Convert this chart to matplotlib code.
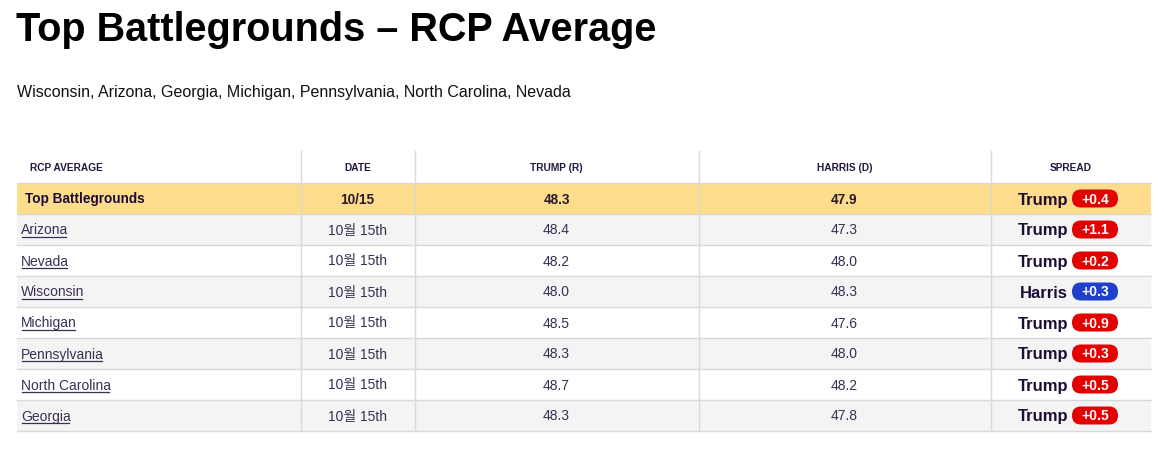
import matplotlib.pyplot as plt
from matplotlib.patches import FancyBboxPatch, Rectangle

title = "Top Battlegrounds \u2013 RCP Average"
subtitle = "Wisconsin, Arizona, Georgia, Michigan, Pennsylvania, North Carolina, Nevada"
headers = ["RCP AVERAGE", "DATE", "TRUMP (R)", "HARRIS (D)", "SPREAD"]

summary_name = "Top Battlegrounds"
summary_date = "10/15"
summary_trump = 48.3
summary_harris = 47.9
summary_leader = "Trump"
summary_spread = 0.4

states = ["Arizona", "Nevada", "Wisconsin", "Michigan", "Pennsylvania", "North Carolina", "Georgia"]
dates = ["10월 15th"] * 7
trump = [48.4, 48.2, 48.0, 48.5, 48.3, 48.7, 48.3]
harris = [47.3, 48.0, 48.3, 47.6, 48.0, 48.2, 47.8]
leaders = ["Trump", "Trump", "Harris", "Trump", "Trump", "Trump", "Trump"]
spreads = [1.1, 0.2, 0.3, 0.9, 0.3, 0.5, 0.5]

W, H = 1164, 451
fig = plt.figure(figsize=(W / 100, H / 100), dpi=100)
ax = fig.add_axes([0, 0, 1, 1])
ax.set_xlim(0, W)
ax.set_ylim(H, 0)
ax.axis("off")

SANS = ["Liberation Sans", "Noto Sans CJK KR", "DejaVu Sans"]
PURPLE = "#25163f"
TEXT = "#3a2e52"
DARK = "#1d0d35"
RED = "#e20000"
BLUE = "#1f3fcc"
GRID = "#d9d9d9"

ax.text(16, 41, title, fontsize=28.5, fontweight="bold", family=SANS,
        color="black", va="baseline", ha="left")
ax.text(17, 97, subtitle, fontsize=11.5, family=SANS, color="#111111",
        va="baseline", ha="left")

left, right = 17, 1151
seps = [300.5, 414.5, 698.5, 990.5]
edges = [left] + seps + [right]
centers = [(edges[i] + edges[i + 1]) / 2 for i in range(5)]
top = 151
row_h = 31
head_bot = 183

# header
for i, h in enumerate(headers):
    x = 30 if i == 0 else centers[i]
    ax.text(x, 171, h, fontsize=7.3, fontweight="bold", family=SANS,
            color=PURPLE, va="baseline", ha="left" if i == 0 else "center")


def spread_cell(yc, leader, val):
    ax.text(1068, yc + 6, leader, fontsize=12, fontweight="bold", family=SANS,
            color=DARK, va="baseline", ha="right")
    col = RED if leader == "Trump" else BLUE
    bx, bw, bh = 1072, 46, 18
    ax.add_patch(FancyBboxPatch((bx, yc - bh / 2), bw, bh,
                                boxstyle="round,pad=0,rounding_size=9",
                                facecolor=col, edgecolor="none", zorder=3))
    ax.text(bx + bw / 2, yc + 5, "+%.1f" % val, fontsize=10, fontweight="bold",
            family=SANS, color="white", va="baseline", ha="center", zorder=4)


# summary row
y0 = head_bot
ax.add_patch(Rectangle((left, y0), right - left, row_h, facecolor="#fddd8c",
                       edgecolor="none", zorder=0))
yc = y0 + row_h / 2
ax.text(25, yc + 5, summary_name, fontsize=9.8, fontweight="bold", family=SANS,
        color=DARK, va="baseline", ha="left")
for x, s in [(centers[1], summary_date), (centers[2], "%.1f" % summary_trump),
             (centers[3], "%.1f" % summary_harris)]:
    ax.text(x, yc + 5, s, fontsize=9.8, fontweight="bold", family=SANS,
            color="#2a1a2a", va="baseline", ha="center")
spread_cell(yc, summary_leader, summary_spread)

# state rows
links = []
for r in range(len(states)):
    y0 = head_bot + row_h * (r + 1)
    yc = y0 + row_h / 2
    if r % 2 == 0:
        ax.add_patch(Rectangle((left, y0), right - left, row_h, facecolor="#f4f4f4",
                               edgecolor="none", zorder=0))
    links.append(ax.text(21, yc + 5, states[r], fontsize=10, family=SANS, color=TEXT,
                         va="baseline", ha="left"))
    ax.text(centers[1], yc + 5, dates[r], fontsize=10, family=SANS, color=TEXT,
            va="baseline", ha="center")
    ax.text(centers[2], yc + 5, "%.1f" % trump[r], fontsize=10, family=SANS, color=TEXT,
            va="baseline", ha="center")
    ax.text(centers[3], yc + 5, "%.1f" % harris[r], fontsize=10, family=SANS, color=TEXT,
            va="baseline", ha="center")
    spread_cell(yc, leaders[r], spreads[r])

# underline for state links
fig.canvas.draw()
renderer = fig.canvas.get_renderer()
inv = ax.transData.inverted()
for txt in links:
    bb = txt.get_window_extent(renderer)
    (x0, _), (x1, _) = inv.transform([(bb.x0, bb.y0), (bb.x1, bb.y0)])
    yb = txt.get_position()[1] + 2
    ax.plot([x0 + 0.5, x1 - 2], [yb, yb], color=TEXT, lw=0.9, zorder=3)

# grid lines
n_rows = len(states) + 1
bottom = head_bot + row_h * n_rows
for k in range(n_rows + 1):
    y = head_bot + row_h * k
    ax.plot([left, right], [y, y], color=GRID, lw=1, zorder=1)
for x in seps:
    ax.plot([x, x], [top, bottom], color=GRID, lw=1, zorder=1)

fig.savefig("out.png", dpi=100)
